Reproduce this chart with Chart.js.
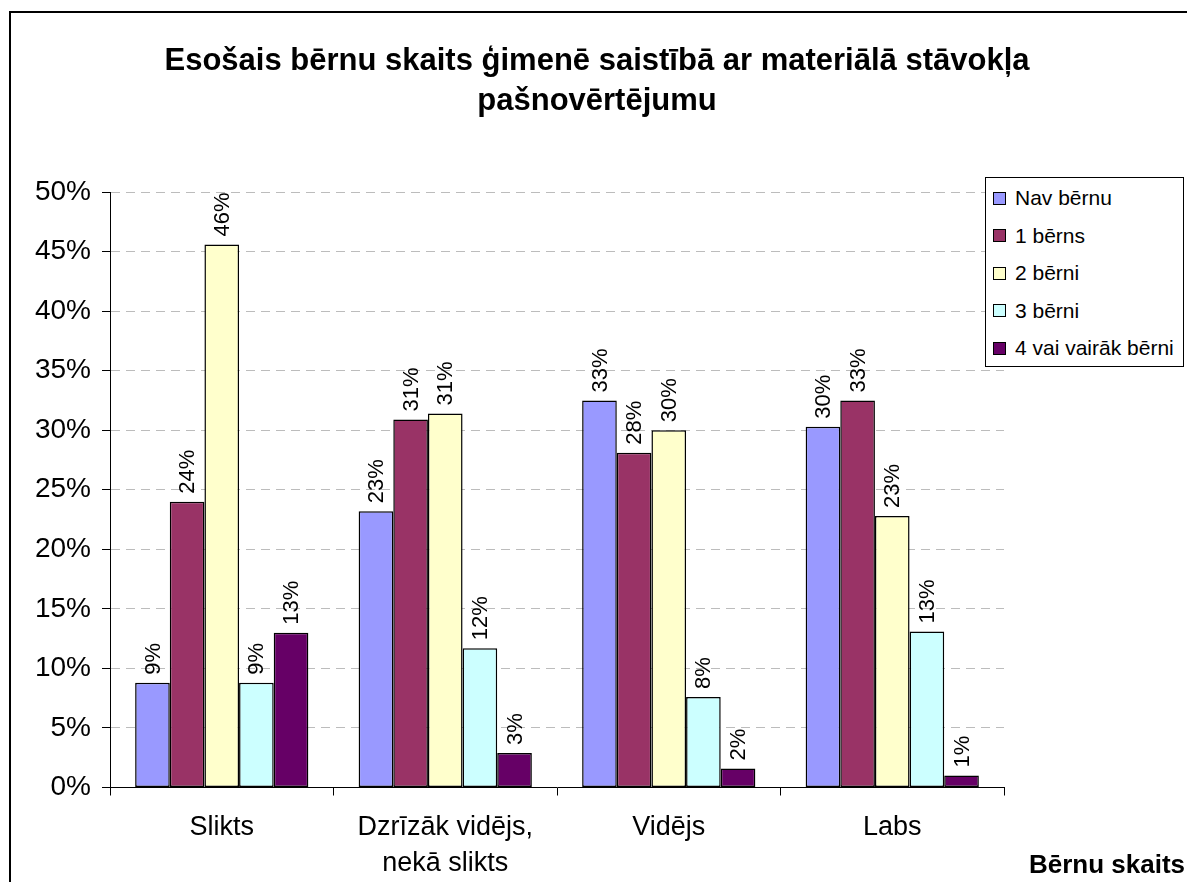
<!DOCTYPE html>
<html>
<head>
<meta charset="utf-8">
<script src="https://cdn.jsdelivr.net/npm/chart.js@4.4.0/dist/chart.umd.min.js"></script>
<style>
body{margin:0;background:#fff;}
#wrap{position:relative;width:1187px;height:882px;overflow:hidden;}
#legend{position:absolute;left:985px;top:177px;width:199px;height:190px;border:1px solid #000;background:#fff;font:21px "Liberation Sans",Arial,sans-serif;color:#000;padding-top:1px;box-sizing:border-box;}
#legend div{height:37.5px;line-height:37.5px;white-space:nowrap;}
#legend span{display:inline-block;width:11px;height:11px;border:1px solid #000;margin:0 9px 0 7px;vertical-align:middle;position:relative;top:-1px;}
</style>
</head>
<body>
<div id="wrap">
<canvas id="canvas" width="1187" height="882"></canvas>
<div id="legend"></div>
</div>
<script>
var categories = ['Slikts', ['Dzrīzāk vidējs,', 'nekā slikts'], 'Vidējs', 'Labs'];
var seriesNames = ['Nav bērnu', '1 bērns', '2 bērni', '3 bērni', '4 vai vairāk bērni'];
var navBernu = [8.8, 23.2, 32.5, 30.3];
var viensBerns = [24.0, 30.9, 28.1, 32.5];
var diviBerni = [45.6, 31.4, 30.0, 22.8];
var trisBerni = [8.8, 11.7, 7.6, 13.1];
var cetriVairak = [13.0, 2.9, 1.6, 1.0];
var colors = ['#9999FF', '#993366', '#FFFFCC', '#CCFFFF', '#660066'];
var titleLines = ['Esošais bērnu skaits ģimenē saistībā ar materiālā stāvokļa', 'pašnovērtējumu'];
var axisTitle = 'Bērnu skaits';

var font = '"Liberation Sans", Arial, sans-serif';
var allValues = [navBernu, viensBerns, diviBerni, trisBerni, cetriVairak];

var datasets = allValues.map(function(vals, i){
    return {
        label: seriesNames[i],
        data: vals,
        backgroundColor: colors[i],
        borderColor: '#000',
        borderWidth: 1.5,
        borderSkipped: false,
        barPercentage: 1.0,
        categoryPercentage: 0.775
    };
});

// legend as html, built from the series
var leg = document.getElementById('legend');
seriesNames.forEach(function(name, i){
    var row = document.createElement('div');
    var sw = document.createElement('span');
    sw.style.background = colors[i];
    row.appendChild(sw);
    row.appendChild(document.createTextNode(name));
    leg.appendChild(row);
});

var frame = {
    id: 'frame',
    beforeDraw: function(chart){
        var c = chart.ctx;
        c.save();
        c.fillStyle = '#fff';
        c.fillRect(0, 0, chart.width, chart.height);
        c.restore();
    },
    afterDraw: function(chart){
        var c = chart.ctx;
        c.save();
        c.strokeStyle = '#000';
        c.lineWidth = 2;
        c.strokeRect(10, 12, 1400, 1200);
        c.fillStyle = '#000';
        c.textBaseline = 'alphabetic';
        // title, centred on the whole chart box
        c.font = 'bold 31px ' + font;
        c.textAlign = 'center';
        c.fillText(titleLines[0], 597, 70);
        c.fillText(titleLines[1], 597, 110);
        c.font = 'bold 26px ' + font;
        c.textAlign = 'right';
        c.fillText(axisTitle, 1185, 873);
        c.restore();
    }
};

var barLabels = {
    id: 'barLabels',
    afterDatasetsDraw: function(chart){
        var c = chart.ctx;
        c.save();
        c.fillStyle = '#000';
        c.font = '22px ' + font;
        c.textAlign = 'left';
        c.textBaseline = 'middle';
        chart.data.datasets.forEach(function(ds, i){
            chart.getDatasetMeta(i).data.forEach(function(bar, j){
                c.save();
                c.translate(bar.x, bar.y - 8);
                c.rotate(-Math.PI / 2);
                c.fillText(Math.round(ds.data[j]) + '%', 0, 1);
                c.restore();
            });
        });
        c.restore();
    }
};

var ctx = document.getElementById('canvas');
var myChart = new Chart(ctx, {
    type: 'bar',
    data: {
        labels: categories,
        datasets: datasets
    },
    options: {
        responsive: false,
        animation: false,
        layout: { padding: { left: 0, right: 183, top: 192, bottom: 0 } },
        plugins: {
            legend: { display: false },
            tooltip: { enabled: false },
            title: { display: false }
        },
        scales: {
            x: {
                offset: true,
                afterFit: function(s){ s.height = 94.5; },
                grid: { offset: true, drawOnChartArea: false, tickLength: 8, tickColor: '#000' },
                border: { color: '#000', width: 1 },
                ticks: {
                    color: '#000',
                    maxRotation: 0,
                    padding: 14,
                    font: { family: font, size: 27, lineHeight: 1.33 }
                }
            },
            y: {
                min: 0,
                max: 50,
                afterFit: function(s){ s.width = 110; },
                grid: {
                    color: function(c){ return c.tick && c.tick.value === 0 ? 'rgba(0,0,0,0)' : '#bcbcbc'; },
                    tickColor: '#000',
                    tickLength: 8,
                    lineWidth: 1
                },
                border: { color: '#000', width: 1, dash: [9, 6] },
                ticks: {
                    stepSize: 5,
                    color: '#000',
                    padding: 11,
                    font: { family: font, size: 28 },
                    callback: function(v){ return v + '%'; }
                }
            }
        }
    },
    plugins: [frame, barLabels]
});
</script>
</body>
</html>
